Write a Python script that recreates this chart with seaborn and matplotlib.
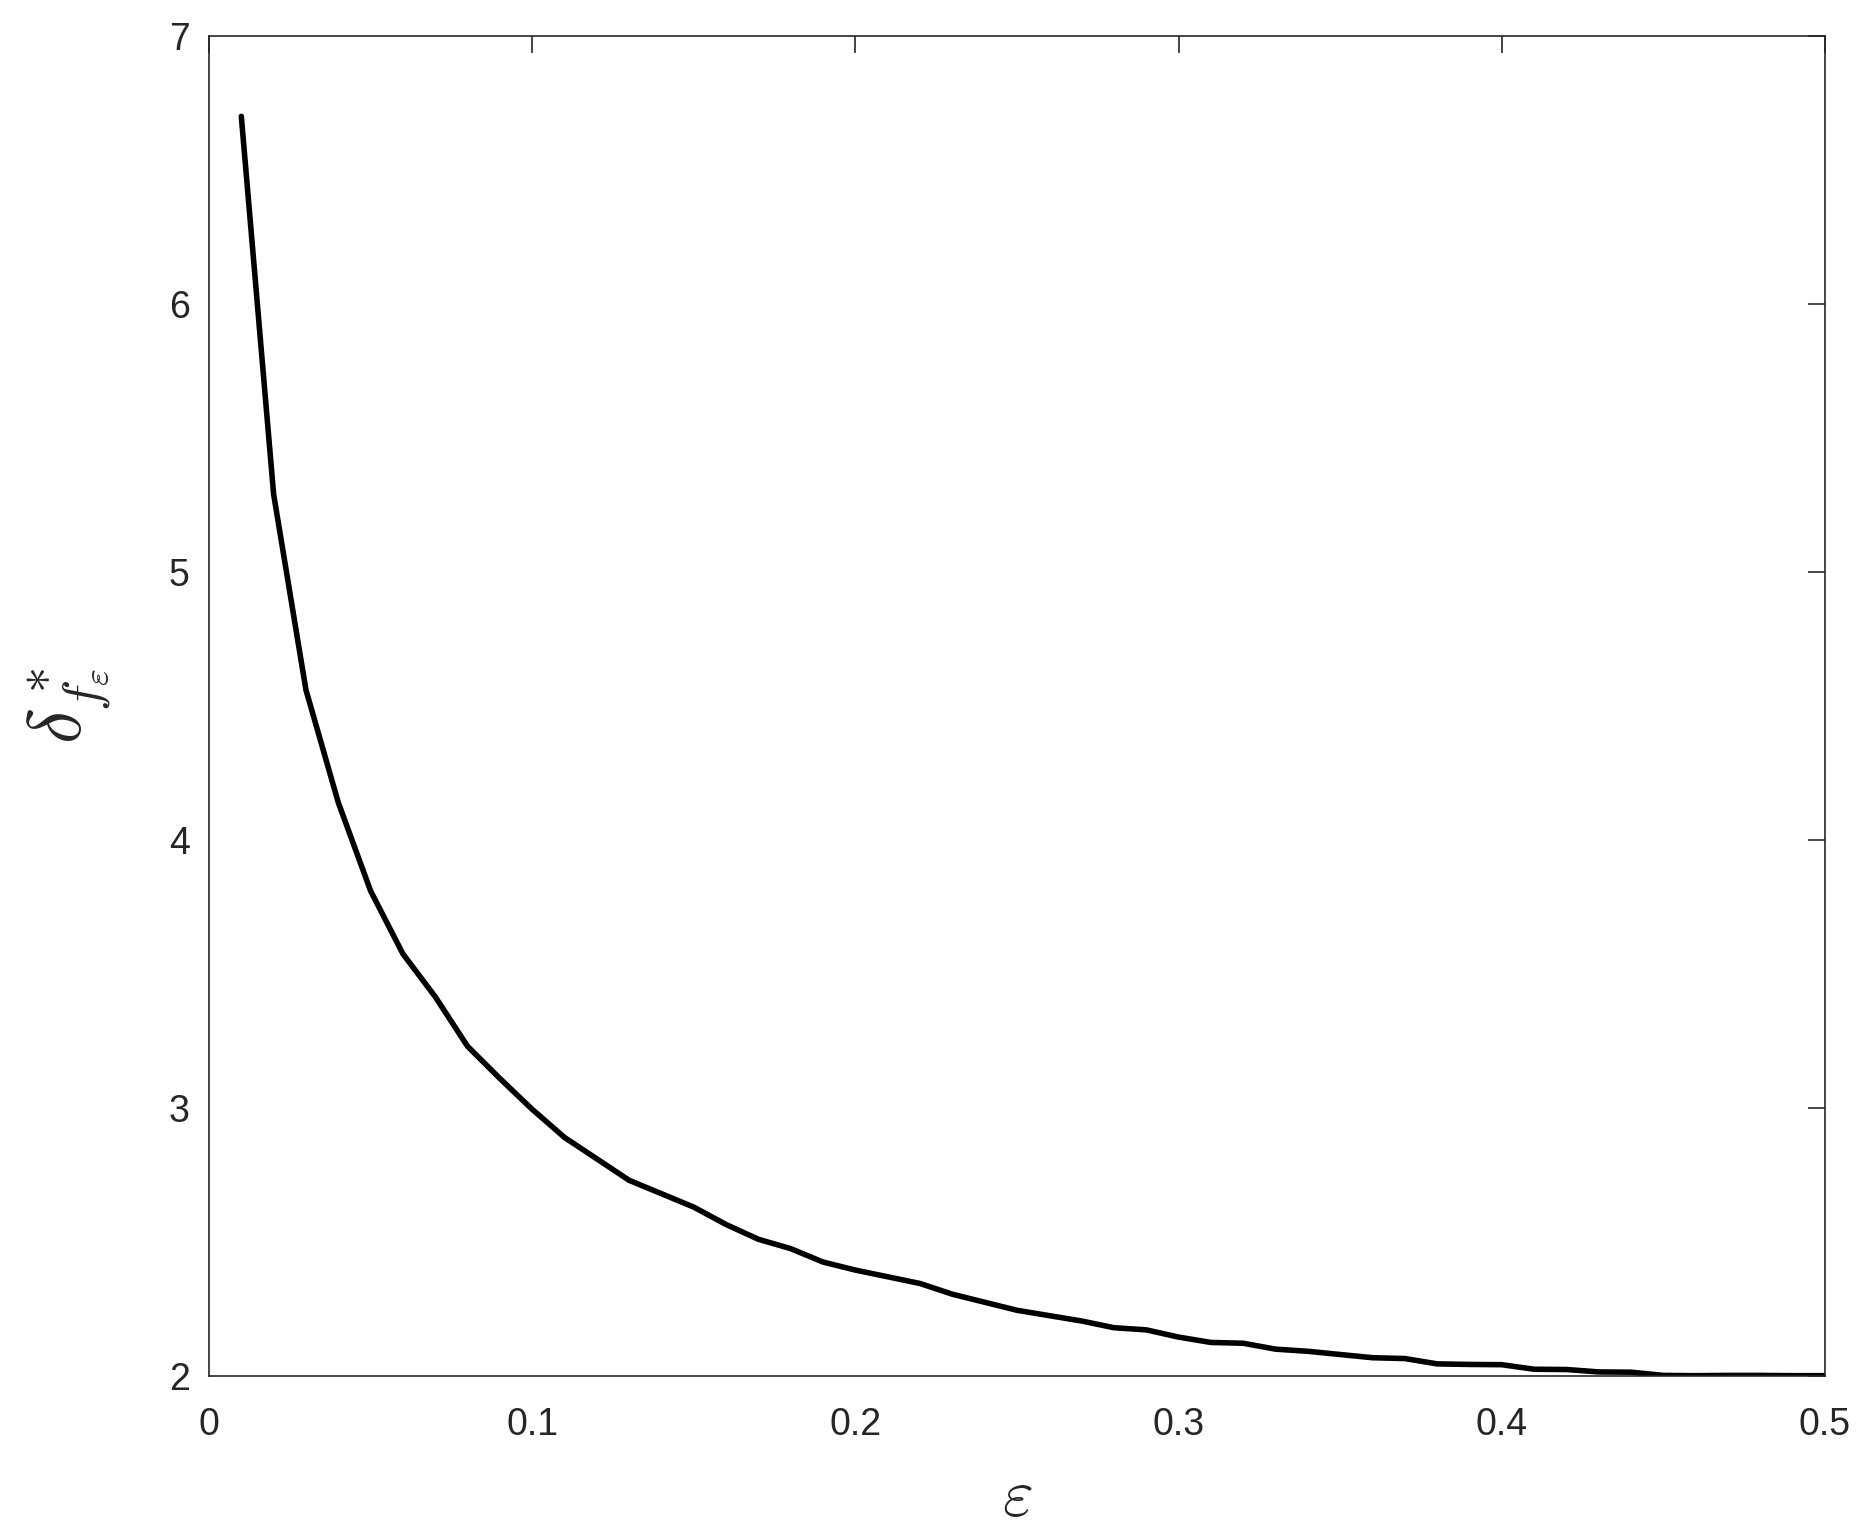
import matplotlib
matplotlib.use("Agg")
import matplotlib.pyplot as plt
import seaborn as sns
import pandas as pd

eps = [0.01, 0.02, 0.03, 0.04, 0.05, 0.06, 0.07, 0.08, 0.09, 0.10,
       0.11, 0.12, 0.13, 0.14, 0.15, 0.16, 0.17, 0.18, 0.19, 0.20,
       0.21, 0.22, 0.23, 0.24, 0.25, 0.26, 0.27, 0.28, 0.29, 0.30,
       0.31, 0.32, 0.33, 0.34, 0.35, 0.36, 0.37, 0.38, 0.39, 0.40,
       0.41, 0.42, 0.43, 0.44, 0.45, 0.46, 0.47, 0.48, 0.49, 0.50]
delta = [6.70, 5.29, 4.56, 4.14, 3.81, 3.575, 3.415, 3.23, 3.11, 2.995,
         2.89, 2.81, 2.73, 2.68, 2.63, 2.565, 2.51, 2.475, 2.425, 2.395,
         2.37, 2.345, 2.305, 2.275, 2.245, 2.225, 2.205, 2.18, 2.172, 2.145,
         2.125, 2.122, 2.10, 2.092, 2.08, 2.068, 2.065, 2.045, 2.043, 2.042,
         2.025, 2.024, 2.015, 2.014, 2.002, 2.001, 2.002, 2.002, 2.001, 2.001]
xticks = [0, 0.1, 0.2, 0.3, 0.4, 0.5]
xticklabels = ["0", "0.1", "0.2", "0.3", "0.4", "0.5"]
yticks = [2, 3, 4, 5, 6, 7]

sns.set_style("white")
plt.rcParams['font.family'] = ['Liberation Sans', 'DejaVu Sans']
plt.rcParams['mathtext.fontset'] = 'cm'

df = pd.DataFrame({"eps": eps, "delta": delta})

fig = plt.figure(figsize=(18.76, 15.36), dpi=100)
ax = fig.add_axes([0.1114, 0.1042, 0.9728 - 0.1114, 0.9766 - 0.1042])
sns.lineplot(data=df, x="eps", y="delta", ax=ax, color="black", linewidth=4.0)

ax.set_xlim(0, 0.5)
ax.set_ylim(2, 7)
ax.set_xticks(xticks)
ax.set_xticklabels(xticklabels)
ax.set_yticks(yticks)
for s in ax.spines.values():
    s.set_visible(True)
    s.set_color("#262626")
    s.set_linewidth(1.2)
ax.tick_params(direction="in", length=12, width=1.2, color="#262626",
               labelsize=27, labelcolor="#262626", top=True, right=True)
ax.tick_params(axis="x", pad=22)
ax.tick_params(axis="y", pad=14)
ax.set_xlabel(r"$\varepsilon$", fontsize=48, labelpad=18, color="#262626")
ax.set_ylabel(r"$\delta^*_{f_\varepsilon}$", fontsize=54, labelpad=40, color="#262626")

fig.savefig("out.png", dpi=100)
